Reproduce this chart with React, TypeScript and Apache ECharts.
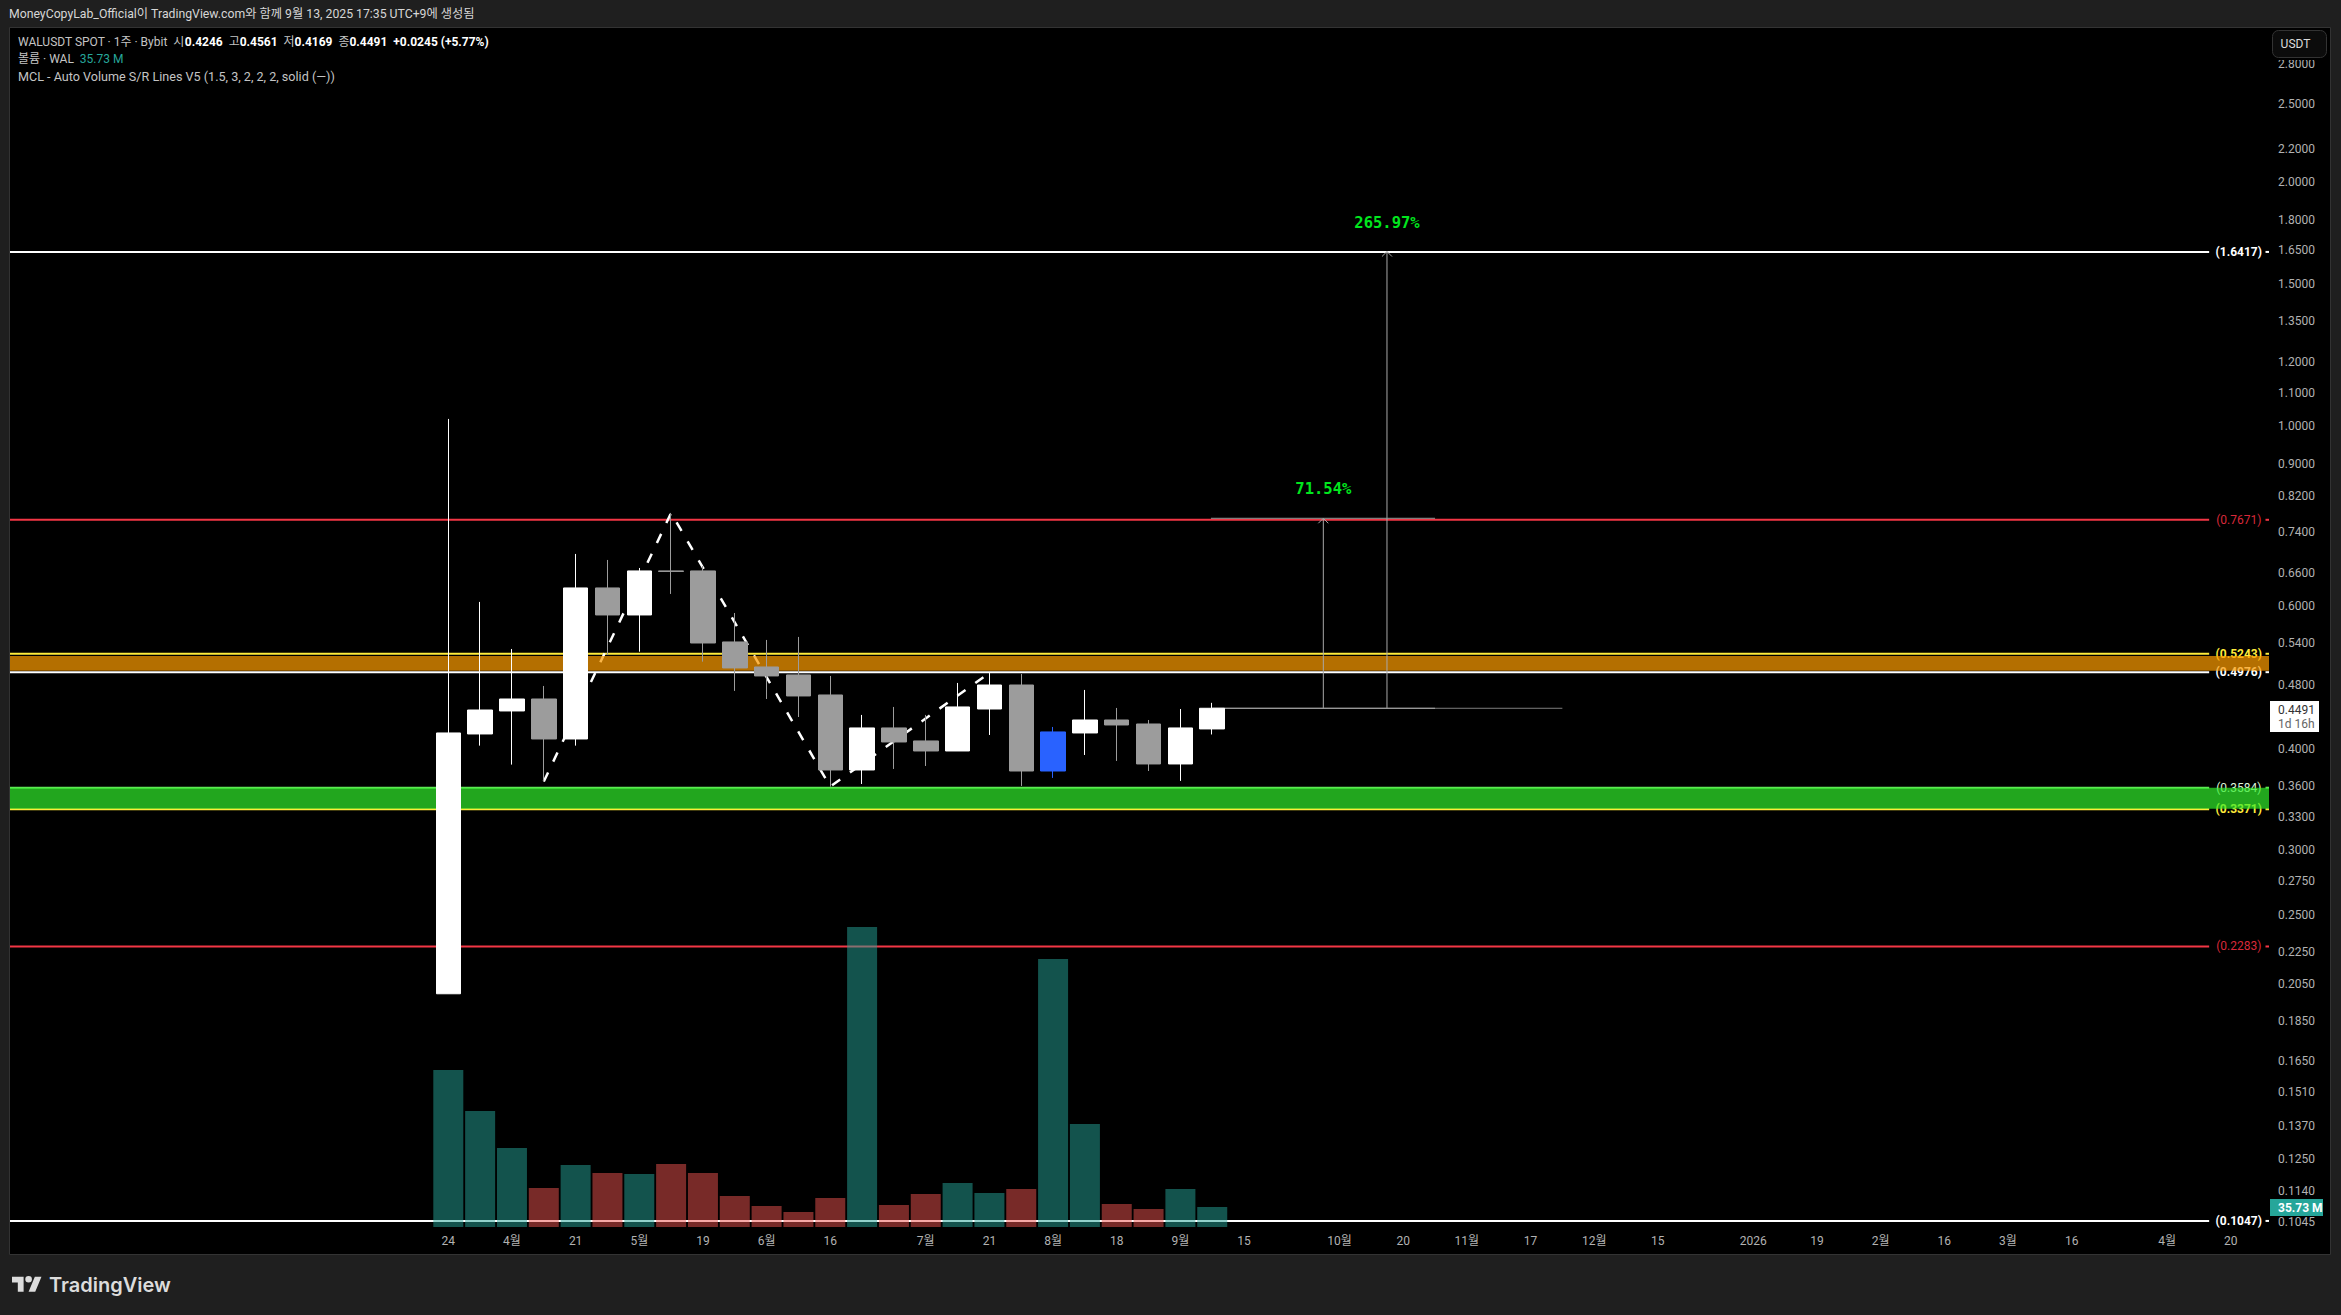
import React, { useEffect, useRef } from 'react';
import * as echarts from 'echarts';

const WIDTH = 2341;
const HEIGHT = 1315;
const FONT = "Roboto, 'Noto Sans CJK KR', sans-serif";

// weekly bars, index = position on the time axis: [open, close, low, high]
const opens = [0.1996, 0.4175, 0.4457, 0.4611, 0.4116, 0.6321, 0.5854, 0.6634, 0.6634, 0.5422, 0.505, 0.4937, 0.4664, 0.3769, 0.4247, 0.4093, 0.3978, 0.4482, 0.4798, 0.3758, 0.4187, 0.4344, 0.4295, 0.3834, 0.4235];
const closes = [0.4187, 0.4469, 0.4611, 0.4116, 0.6321, 0.5854, 0.6634, 0.6625, 0.5406, 0.5036, 0.4923, 0.4651, 0.3769, 0.4247, 0.4081, 0.3978, 0.4508, 0.4798, 0.3758, 0.4199, 0.4344, 0.4283, 0.3834, 0.4247, 0.4491];
const lows = [0.1996, 0.4039, 0.3827, 0.3648, 0.4039, 0.5225, 0.5274, 0.6214, 0.5127, 0.4718, 0.4611, 0.4381, 0.3595, 0.3622, 0.378, 0.3812, 0.3978, 0.4163, 0.3602, 0.3685, 0.3933, 0.3867, 0.3758, 0.3654, 0.4169];
const highs = [1.0216, 0.6075, 0.5315, 0.4785, 0.6962, 0.6844, 0.669, 0.7822, 0.6728, 0.5887, 0.5453, 0.55, 0.4923, 0.4407, 0.4508, 0.4407, 0.4826, 0.4965, 0.4951, 0.4259, 0.4731, 0.4495, 0.4344, 0.4482, 0.4561];
const volumes = [280.5, 207.2, 141.1, 69.7, 110.8, 96.5, 94.7, 112.6, 96.5, 55.4, 37.5, 26.8, 51.8, 536, 39.3, 59, 78.6, 60.7, 67.9, 478.8, 184, 41.1, 32.2, 67.9, 35.73];
const BLUE_BAR = 19;

const priceTicks = [2.8, 2.5, 2.2, 2, 1.8, 1.65, 1.5, 1.35, 1.2, 1.1, 1, 0.9, 0.82, 0.74, 0.66, 0.6, 0.54, 0.48, 0.4, 0.36, 0.33, 0.3, 0.275, 0.25, 0.225, 0.205, 0.185, 0.165, 0.151, 0.137, 0.125, 0.114, 0.1045];

const timeTickIndex = [0, 2, 4, 6, 8, 10, 12, 15, 17, 19, 21, 23, 25, 28, 30, 32, 34, 36, 38, 41, 43, 45, 47, 49, 51, 54, 56];
const timeTickLabels = ['24', '4월', '21', '5월', '19', '6월', '16', '7월', '21', '8월', '18', '9월', '15', '10월', '20', '11월', '17', '12월', '15', '2026', '19', '2월', '16', '3월', '16', '4월', '20'];

// support / resistance levels of the indicator
const levelPrices = [1.6417, 0.7671, 0.5243, 0.4976, 0.3584, 0.3371, 0.2283, 0.1047];
const levelColors = ['#ffffff', '#f23645', '#ffeb3b', '#ffffff', '#66e85c', '#ffeb3b', '#f23645', '#ffffff'];
const levelTextColors = ['#ffffff', '#d8293a', '#ffeb3b', '#ffffff', '#dff7da', '#ffeb3b', '#d8293a', '#ffffff'];
const levelBold = [true, false, true, true, false, true, false, true];

// zones: [top, bottom]
const zonePrices = [[0.521, 0.4997], [0.3584, 0.3375]];
const zoneColors = ['rgba(249,154,0,0.72)', 'rgba(48,237,43,0.7)'];

// dashed zigzag
const zigzagX = [3, 7, 12, 17];
const zigzagY = [0.3648, 0.7822, 0.3595, 0.4965];

// measuring arrows
const arrowX = [27.49, 29.49];
const arrowFrom = [0.4491, 0.4491];
const arrowTo = [0.7704, 1.6436];
const arrowText = ['71.54%', '265.97%'];
const targetLine = [[23.96, 0.7704], [31, 0.7704]];
const baseLine = [[24, 0.4491], [35, 0.4491]];
const baseLine2 = [[24, 0.4491], [31, 0.4491]];

const X_MIN = -13.77;
const X_MAX = 57.2;
const LEVEL_END = 55.32;
const LEVEL_TEXT = 56.25;
const LEVEL_DASH = 57.09;

echarts.graphic.registerShape(
  'tvLogo',
  echarts.graphic.extendPath(
    'M14 22H7V11H0V4h14v18zM28 22h-8l7.5-18h8L28 22zM20 3a4 4 0 1 1 0 8 4 4 0 0 1 0-8z',
    {},
  ),
);

const isUp = (i: number) => closes[i] >= opens[i];

const App: React.FC = () => {
  const chartRef = useRef<HTMLDivElement>(null);

  useEffect(() => {
    if (!chartRef.current) return;
    const chart = echarts.init(chartRef.current, undefined, { renderer: 'svg' });

    const candleData = opens.map((o, i) => {
      const c = i === BLUE_BAR ? '#2962ff' : isUp(i) ? '#ffffff' : '#9c9c9c';
      return {
        value: [i, o, closes[i], lows[i], highs[i]],
        itemStyle: { color: c, color0: c, borderColor: c, borderColor0: c },
      };
    });

    const volumeData = volumes.map((v, i) => ({
      value: [i, v],
      itemStyle: { color: isUp(i) ? 'rgba(38,166,154,0.5)' : 'rgba(239,83,80,0.5)' },
    }));

    const option = {
      animation: false,
      backgroundColor: '#1f1f1f',
      grid: { left: 10, right: WIDTH - 2269, top: 27, bottom: HEIGHT - 1227 },
      xAxis: {
        type: 'value',
        min: X_MIN,
        max: X_MAX,
        splitLine: { show: false },
        axisLine: { show: false },
        axisTick: { show: false },
        axisLabel: {
          color: '#b2b2b2',
          fontFamily: FONT,
          fontSize: 12,
          margin: 8,
          customValues: timeTickIndex,
          formatter: (v: number) => timeTickLabels[timeTickIndex.indexOf(v)] ?? '',
        },
      },
      yAxis: [
        {
          type: 'log',
          min: 0.10291,
          max: 3.11,
          position: 'right',
          splitLine: { show: false },
          axisLine: { show: false },
          axisTick: { show: false },
          axisLabel: { show: false },
        },
        {
          type: 'value',
          min: 0,
          max: 2143.8,
          show: false,
        },
      ],
      series: [
        {
          // price scale labels, placed by the log axis
          type: 'custom',
          z: 1,
          clip: false,
          data: priceTicks.map((p) => [X_MAX, p]),
          encode: { x: 0, y: 1 },
          renderItem: (_: any, api: any) => {
            const pt = api.coord([api.value(0), api.value(1)]);
            return {
              type: 'text',
              style: {
                text: api.value(1).toFixed(4),
                x: pt[0] + 9,
                y: pt[1],
                fill: '#b2b2b2',
                font: `12px ${FONT}`,
                align: 'left',
                verticalAlign: 'middle',
              },
            };
          },
        },
        {
          // level lines with their labels
          type: 'custom',
          z: 2,
          clip: false,
          data: levelPrices.map((p) => [X_MIN, p]),
          encode: { x: 0, y: 1 },
          renderItem: (params: any, api: any) => {
            const p = api.value(1);
            const color = levelColors[params.dataIndex];
            const a = api.coord([X_MIN, p]);
            const b = api.coord([LEVEL_END, p]);
            const t = api.coord([LEVEL_TEXT, p]);
            const d1 = api.coord([LEVEL_DASH, p]);
            const d2 = api.coord([X_MAX, p]);
            return {
              type: 'group',
              children: [
                { type: 'line', shape: { x1: a[0], y1: a[1], x2: b[0], y2: b[1] }, style: { stroke: color, lineWidth: 2 } },
                { type: 'line', shape: { x1: d1[0], y1: d1[1], x2: d2[0], y2: d2[1] }, style: { stroke: color, lineWidth: 2 } },
                {
                  type: 'text',
                  style: {
                    text: `(${p.toFixed(4)})`,
                    x: t[0],
                    y: t[1],
                    fill: levelTextColors[params.dataIndex],
                    font: `${levelBold[params.dataIndex] ? 'bold ' : ''}12px ${FONT}`,
                    align: 'center',
                    verticalAlign: 'middle',
                  },
                },
              ],
            };
          },
        },
        {
          name: 'zigzag',
          type: 'line',
          z: 3,
          symbol: 'none',
          data: zigzagX.map((x, i) => [x, zigzagY[i]]),
          lineStyle: { color: '#ffffff', width: 2.5, type: [10, 12] },
        },
        {
          // colored zones, lie over the levels
          type: 'custom',
          z: 4,
          clip: false,
          data: zonePrices.map((z) => [X_MIN, z[0], X_MAX, z[1]]),
          encode: { x: [0, 2], y: [1, 3] },
          renderItem: (params: any, api: any) => {
            const a = api.coord([api.value(0), api.value(1)]);
            const b = api.coord([api.value(2), api.value(3)]);
            return {
              type: 'rect',
              shape: { x: a[0], y: a[1], width: b[0] - a[0], height: b[1] - a[1] },
              style: { fill: zoneColors[params.dataIndex] },
            };
          },
        },
        {
          name: 'WALUSDT',
          type: 'candlestick',
          z: 5,
          barWidth: 25,
          data: candleData,
          itemStyle: { borderWidth: 1 },
        },
        {
          name: 'target',
          type: 'line',
          z: 5,
          symbol: 'none',
          data: targetLine,
          lineStyle: { color: '#9a9a9a', width: 1 },
        },
        {
          name: 'base',
          type: 'line',
          z: 5,
          symbol: 'none',
          data: baseLine,
          lineStyle: { color: '#7d7d7d', width: 1 },
        },
        {
          name: 'base2',
          type: 'line',
          z: 5,
          symbol: 'none',
          data: baseLine2,
          lineStyle: { color: '#a8a8a8', width: 1 },
        },
        {
          // measuring arrows and percent labels
          type: 'custom',
          z: 5,
          clip: false,
          data: arrowX.map((x, i) => [x, arrowFrom[i], arrowTo[i]]),
          encode: { x: 0, y: [1, 2] },
          renderItem: (params: any, api: any) => {
            const a = api.coord([api.value(0), api.value(1)]);
            const b = api.coord([api.value(0), api.value(2)]);
            return {
              type: 'group',
              children: [
                { type: 'line', shape: { x1: a[0], y1: a[1], x2: b[0], y2: b[1] }, style: { stroke: '#a8a8a8', lineWidth: 1 } },
                {
                  type: 'polyline',
                  shape: { points: [[b[0] - 5, b[1] + 5], [b[0], b[1]], [b[0] + 5, b[1] + 5]] },
                  style: { stroke: '#a8a8a8', lineWidth: 1, fill: 'none' },
                },
                {
                  type: 'text',
                  style: {
                    text: arrowText[params.dataIndex],
                    x: b[0],
                    y: b[1] - 29,
                    fill: '#00e61e',
                    font: "bold 15.5px 'DejaVu Sans Mono', monospace",
                    align: 'center',
                    verticalAlign: 'middle',
                  },
                },
              ],
            };
          },
        },
        {
          name: '볼륨',
          type: 'bar',
          z: 6,
          yAxisIndex: 1,
          barWidth: 30,
          data: volumeData,
        },
      ],
      graphic: {
        elements: [
          {
            type: 'rect',
            z: -1,
            silent: true,
            shape: { x: 9.5, y: 27.5, width: 2321, height: 1227 },
            style: { fill: '#000000', stroke: '#333333', lineWidth: 1 },
          },
          {
            type: 'text',
            z: 100,
            x: 9,
            y: 14,
            style: {
              text: 'MoneyCopyLab_Official이 TradingView.com와 함께 9월 13, 2025 17:35 UTC+9에 생성됨',
              fill: '#d6d6d6',
              font: `12.25px ${FONT}`,
              verticalAlign: 'middle',
            },
          },
          {
            type: 'text',
            z: 100,
            x: 18,
            y: 42,
            style: {
              text: '{a|WALUSDT SPOT · 1주 · Bybit  시}{b|0.4246}{a|  고}{b|0.4561}{a|  저}{b|0.4169}{a|  종}{b|0.4491}{b|  +0.0245 (+5.77%)}',
              verticalAlign: 'middle',
              rich: {
                a: { fill: '#c4c4c4', font: `12px ${FONT}` },
                b: { fill: '#ffffff', font: `bold 12px ${FONT}` },
              },
            },
          },
          {
            type: 'text',
            z: 100,
            x: 18,
            y: 59,
            style: {
              text: '{a|볼륨 · WAL  }{c|35.73 M}',
              verticalAlign: 'middle',
              rich: {
                a: { fill: '#c4c4c4', font: `12px ${FONT}` },
                c: { fill: '#26a69a', font: `12px ${FONT}` },
              },
            },
          },
          {
            type: 'text',
            z: 100,
            x: 18,
            y: 76,
            style: {
              text: 'MCL - Auto Volume S/R Lines V5 (1.5, 3, 2, 2, 2, solid (—))',
              fill: '#c4c4c4',
              font: `12.6px ${FONT}`,
              verticalAlign: 'middle',
            },
          },
          {
            // black strip round the currency button, cuts the top tick label
            type: 'rect',
            z: 99,
            shape: { x: 2270, y: 28, width: 60, height: 32 },
            style: { fill: '#000000' },
          },
          {
            type: 'rect',
            z: 100,
            shape: { x: 2272.5, y: 30.5, width: 54, height: 27, r: 6 },
            style: { fill: '#0c0c0c', stroke: '#333333', lineWidth: 1 },
          },
          {
            type: 'text',
            z: 101,
            x: 2295.5,
            y: 44,
            style: { text: 'USDT', fill: '#dcdcdc', font: `12px ${FONT}`, align: 'center', verticalAlign: 'middle' },
          },
          {
            type: 'rect',
            z: 100,
            shape: { x: 2270, y: 701, width: 49, height: 31 },
            style: { fill: '#ffffff' },
          },
          {
            type: 'text',
            z: 101,
            x: 2278,
            y: 709.5,
            style: { text: '0.4491', fill: '#333333', font: `12px ${FONT}`, verticalAlign: 'middle' },
          },
          {
            type: 'text',
            z: 101,
            x: 2278,
            y: 723.5,
            style: { text: '1d 16h', fill: '#666666', font: `12px ${FONT}`, verticalAlign: 'middle' },
          },
          {
            type: 'rect',
            z: 100,
            shape: { x: 2270, y: 1199, width: 53, height: 17 },
            style: { fill: '#26a69a' },
          },
          {
            type: 'text',
            z: 101,
            x: 2278,
            y: 1208,
            style: { text: '35.73 M', fill: '#ffffff', font: `bold 12px ${FONT}`, verticalAlign: 'middle' },
          },
          {
            type: 'tvLogo',
            z: 100,
            x: 12,
            y: 1273.4,
            scaleX: 0.83,
            scaleY: 0.83,
            style: { fill: '#dcdcdc' },
          },
          {
            type: 'text',
            z: 100,
            x: 49,
            y: 1285,
            style: { text: 'TradingView', fill: '#dcdcdc', font: `600 20px Inter, ${FONT}`, verticalAlign: 'middle' },
          },
        ],
      },
    };

    chart.setOption(option as any);

    return () => {
      chart.dispose();
    };
  }, []);

  return (
    <div
      ref={chartRef}
      style={{ position: 'fixed', left: 0, top: 0, width: WIDTH, height: HEIGHT }}
    />
  );
};

export default App;
